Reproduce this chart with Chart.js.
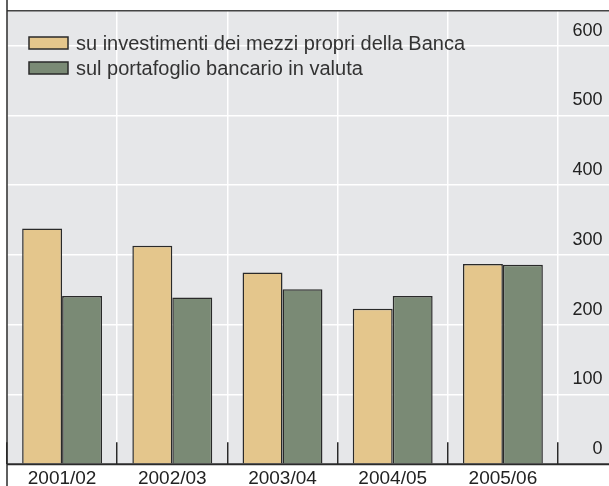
<!DOCTYPE html>
<html>
<head>
<meta charset="utf-8">
<script src="https://cdn.jsdelivr.net/npm/chart.js@4"></script>
<style>
  html, body { margin: 0; padding: 0; background: #ffffff; }
  #chart { display: block; }
</style>
</head>
<body>
<canvas id="chart" width="609" height="486"></canvas>
<script>
// dati
const categories = ['2001/02', '2002/03', '2003/04', '2004/05', '2005/06'];
const seriesNames = ['su investimenti dei mezzi propri della Banca', 'sul portafoglio bancario in valuta'];
const mezziPropri = [338, 313, 275, 223, 287];
const portafoglioValuta = [241, 239, 251, 241, 286];
const yTicks = [0, 100, 200, 300, 400, 500, 600];

const tan = '#e4c68c';
const green = '#7a8a75';
const bgGray = '#e6e7e9';
const dark = '#2a2a2a';
const fontFamily = '"Liberation Sans", Arial, sans-serif';

// sfondo grigio e cornice
const frame = {
    id: 'frame',
    beforeDraw(chart) {
        const ctx = chart.ctx;
        const a = chart.chartArea;
        ctx.save();
        ctx.fillStyle = '#ffffff';
        ctx.fillRect(0, 0, chart.width, chart.height);
        ctx.fillStyle = bgGray;
        ctx.fillRect(a.left, a.top, chart.width - a.left, a.bottom - a.top);
        ctx.restore();
    },
    afterDraw(chart) {
        const ctx = chart.ctx;
        const a = chart.chartArea;
        ctx.save();
        ctx.strokeStyle = '#444';
        ctx.lineWidth = 1.5;
        ctx.beginPath();
        ctx.moveTo(a.left, a.top);
        ctx.lineTo(chart.width, a.top);
        ctx.stroke();
        ctx.strokeStyle = dark;
        ctx.lineWidth = 1.5;
        ctx.beginPath();
        ctx.moveTo(a.left, 0);
        ctx.lineTo(a.left, chart.height);
        ctx.stroke();
        ctx.lineWidth = 2;
        ctx.beginPath();
        ctx.moveTo(a.left, a.bottom);
        ctx.lineTo(chart.width, a.bottom);
        ctx.stroke();
        ctx.restore();
    }
};

// legenda dentro l'area del grafico
const insideLegend = {
    id: 'insideLegend',
    afterDraw(chart) {
        const ctx = chart.ctx;
        ctx.save();
        ctx.font = '20px ' + fontFamily;
        ctx.textBaseline = 'middle';
        chart.data.datasets.forEach((ds, i) => {
            const y = 43 + i * 25;
            ctx.fillStyle = ds.backgroundColor;
            ctx.fillRect(29, y - 6, 39, 12);
            ctx.strokeStyle = dark;
            ctx.lineWidth = 1.5;
            ctx.strokeRect(29, y - 6, 39, 12);
            ctx.fillStyle = '#333';
            ctx.fillText(ds.label, 76, y + 1);
        });
        ctx.restore();
    }
};

const ctx = document.getElementById('chart').getContext('2d');
const chart = new Chart(ctx, {
    type: 'bar',
    data: {
        labels: categories,
        datasets: [{
            label: seriesNames[0],
            data: mezziPropri,
            backgroundColor: tan,
            borderColor: dark,
            borderWidth: 1.5,
            categoryPercentage: 0.725,
            barPercentage: 1.0
        }, {
            label: seriesNames[1],
            data: portafoglioValuta,
            backgroundColor: green,
            borderColor: dark,
            borderWidth: 1.5,
            categoryPercentage: 0.725,
            barPercentage: 1.0
        }]
    },
    options: {
        responsive: false,
        animation: false,
        devicePixelRatio: 1,
        layout: { padding: { left: 7, top: 10.7, right: 6.5, bottom: 0 } },
        plugins: {
            legend: { display: false },
            tooltip: { enabled: false }
        },
        scales: {
            x: {
                offset: true,
                grid: {
                    offset: true,
                    color: '#ffffff',
                    lineWidth: 1.5,
                    tickColor: dark,
                    tickLength: -22
                },
                border: { display: false },
                ticks: {
                    color: '#222',
                    font: { family: fontFamily, size: 19 },
                    padding: 25,
                    maxRotation: 0
                },
                afterFit(scale) {
                    scale.height = 21.7;
                    scale.paddingLeft = 0;
                    scale.paddingRight = 0;
                }
            },
            y: {
                position: 'right',
                min: 0,
                max: 650,
                grid: {
                    color: '#ffffff',
                    lineWidth: 1.5,
                    tickLength: 51
                },
                border: { display: false },
                ticks: {
                    stepSize: 100,
                    color: '#222',
                    font: { family: fontFamily, size: 18 },
                    crossAlign: 'far',
                    padding: 0,
                    labelOffset: -15
                },
                afterBuildTicks(scale) {
                    scale.ticks = yTicks.map(v => ({ value: v }));
                },
                afterFit(scale) {
                    scale.width = 44.5;
                    scale.paddingTop = 0;
                    scale.paddingBottom = 0;
                }
            }
        }
    },
    plugins: [frame, insideLegend]
});
</script>
</body>
</html>
